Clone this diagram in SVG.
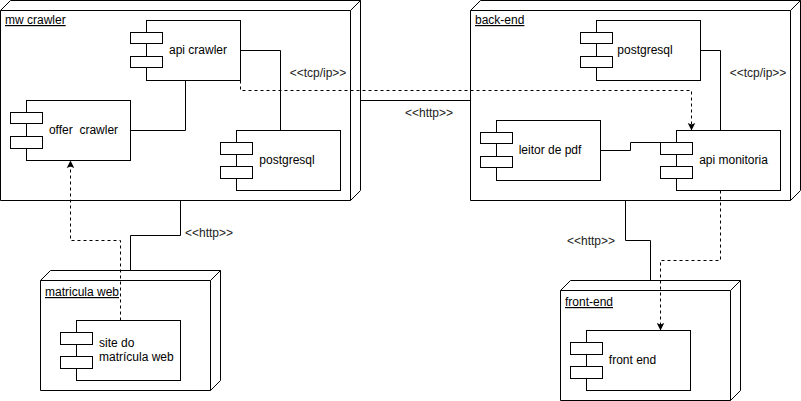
<svg xmlns="http://www.w3.org/2000/svg" width="801" height="401" viewBox="0 0 801 401">
<style>
  .nd { fill: #ffffff; stroke: #000000; stroke-width: 1; }
  .ln { fill: none; stroke: #000000; stroke-width: 1; }
  .cmp { fill: #ffffff; stroke: #000000; stroke-width: 1; }
  .edge { fill: none; stroke: #000000; stroke-width: 1; }
  .dash { stroke-dasharray: 3 3; }
  text { font-family: "Liberation Sans", Arial, Helvetica, sans-serif; font-size: 12px; fill: #000000; }
  .title { text-decoration: underline; }
  .mid { text-anchor: middle; }
  .elbl { fill: #222222; }
</style>
<defs>
  <marker id="arr" viewBox="-8 -5 9 10" refX="0" refY="0" markerWidth="9" markerHeight="10" orient="auto" markerUnits="userSpaceOnUse">
    <path d="M0,0 L-7.5,-3.75 L-6,0 L-7.5,3.75 Z" fill="#000000" stroke="none"/>
  </marker>
</defs>

<!-- Node: mw crawler -->
<g id="node-mw-crawler">
  <path class="nd" d="M0.5,10.5 L10.5,0.5 L360.5,0.5 L360.5,190.5 L350.5,200.5 L0.5,200.5 Z"/>
  <path class="ln" d="M0.5,10.5 L350.5,10.5 L360.5,0.5 M350.5,10.5 L350.5,200.5"/>
  <text class="title" x="5" y="24">mw crawler</text>
</g>
<g id="comp-api-crawler">
  <rect class="cmp" x="146.5" y="20.5" width="94" height="60"/>
  <rect class="cmp" x="130.5" y="32.5" width="32" height="11"/>
  <rect class="cmp" x="130.5" y="56.5" width="32" height="11"/>
  <text class="mid" x="198" y="54">api crawler</text>
</g>
<g id="comp-offer-crawler">
  <rect class="cmp" x="26.5" y="100.5" width="104" height="60"/>
  <rect class="cmp" x="10.5" y="112.5" width="32" height="11"/>
  <rect class="cmp" x="10.5" y="136.5" width="32" height="12"/>
  <text class="mid" x="83.5" y="134" xml:space="preserve" style="white-space:pre">offer  crawler</text>
</g>
<g id="comp-postgresql-mw">
  <rect class="cmp" x="236.5" y="130.5" width="104" height="60"/>
  <rect class="cmp" x="220.5" y="142.5" width="32" height="12"/>
  <rect class="cmp" x="220.5" y="166.5" width="32" height="12"/>
  <text class="mid" x="287" y="164">postgresql</text>
</g>

<!-- Node: back-end -->
<g id="node-back-end">
  <path class="nd" d="M470.5,10.5 L480.5,0.5 L800.5,0.5 L800.5,190.5 L790.5,200.5 L470.5,200.5 Z"/>
  <path class="ln" d="M470.5,10.5 L790.5,10.5 L800.5,0.5 M790.5,10.5 L790.5,200.5"/>
  <text class="title" x="475" y="24">back-end</text>
</g>
<g id="comp-postgresql-back">
  <rect class="cmp" x="596.5" y="20.5" width="104" height="60"/>
  <rect class="cmp" x="580.5" y="32.5" width="32" height="11"/>
  <rect class="cmp" x="580.5" y="56.5" width="32" height="11"/>
  <text class="mid" x="645" y="54">postgresql</text>
</g>
<g id="comp-leitor-pdf">
  <rect class="cmp" x="496.5" y="120.5" width="104" height="60"/>
  <rect class="cmp" x="480.5" y="132.5" width="32" height="11"/>
  <rect class="cmp" x="480.5" y="156.5" width="32" height="11"/>
  <text class="mid" x="550" y="154">leitor de pdf</text>
</g>
<g id="comp-api-monitoria">
  <rect class="cmp" x="676.5" y="130.5" width="104" height="60"/>
  <rect class="cmp" x="660.5" y="142.5" width="32" height="12"/>
  <rect class="cmp" x="660.5" y="166.5" width="32" height="12"/>
  <text class="mid" x="733.5" y="164">api monitoria</text>
</g>

<!-- Node: front-end -->
<g id="node-front-end">
  <path class="nd" d="M560.5,290.5 L570.5,280.5 L740.5,280.5 L740.5,390.5 L730.5,400.5 L560.5,400.5 Z"/>
  <path class="ln" d="M560.5,290.5 L730.5,290.5 L740.5,280.5 M730.5,290.5 L730.5,400.5"/>
  <text class="title" x="565" y="306">front-end</text>
</g>
<g id="comp-front-end">
  <rect class="cmp" x="586.5" y="330.5" width="104" height="60"/>
  <rect class="cmp" x="570.5" y="342.5" width="32" height="12"/>
  <rect class="cmp" x="570.5" y="366.5" width="32" height="12"/>
  <text class="mid" x="632.5" y="364">front end</text>
</g>

<!-- Node: matricula web -->
<g id="node-matricula-web">
  <path class="nd" d="M40.5,280.5 L50.5,270.5 L220.5,270.5 L220.5,380.5 L210.5,390.5 L40.5,390.5 Z"/>
  <path class="ln" d="M40.5,280.5 L210.5,280.5 L220.5,270.5 M210.5,280.5 L210.5,390.5"/>
  <text class="title" x="45" y="296">matricula web</text>
</g>
<g id="comp-site-matricula">
  <rect class="cmp" x="76.5" y="320.5" width="104" height="60"/>
  <rect class="cmp" x="60.5" y="332.5" width="32" height="12"/>
  <rect class="cmp" x="60.5" y="356.5" width="32" height="12"/>
  <text x="99" y="347">site do</text>
  <text x="99" y="361">matrícula web</text>
</g>

<!-- Connectors -->
<g id="connectors">
  <path class="edge" d="M240.5,50.5 H280.5 V130.5"/>
  <path class="edge" d="M185.5,80.5 V130.5 H130.5"/>
  <path class="edge dash" d="M240.5,80.5 V90.5 H691.5 V130.5" marker-end="url(#arr)"/>
  <path class="edge" d="M360.5,100.5 H470.5"/>
  <path class="edge" d="M700.5,50.5 H720.5 V130.5"/>
  <path class="edge" d="M600.5,150.5 H630.5 V142.5 H660.5"/>
  <path class="edge" d="M625.5,200.5 V240.5 H650.5 V280.5"/>
  <path class="edge dash" d="M720.5,190.5 V260.5 H660.5 V330.5" marker-end="url(#arr)"/>
  <path class="edge" d="M130.5,270.5 V235.5 H180.5 V200.5"/>
  <path class="edge dash" d="M120.5,320.5 V240.5 H70.5 V160.5" marker-end="url(#arr)"/>
  <text class="mid elbl" x="318" y="77">&lt;&lt;tcp/ip&gt;&gt;</text>
  <text class="mid elbl" x="758" y="77">&lt;&lt;tcp/ip&gt;&gt;</text>
  <text class="mid elbl" x="429" y="117">&lt;&lt;http&gt;&gt;</text>
  <text class="mid elbl" x="209" y="237">&lt;&lt;http&gt;&gt;</text>
  <text class="mid elbl" x="591" y="245">&lt;&lt;http&gt;&gt;</text>
</g>
</svg>
